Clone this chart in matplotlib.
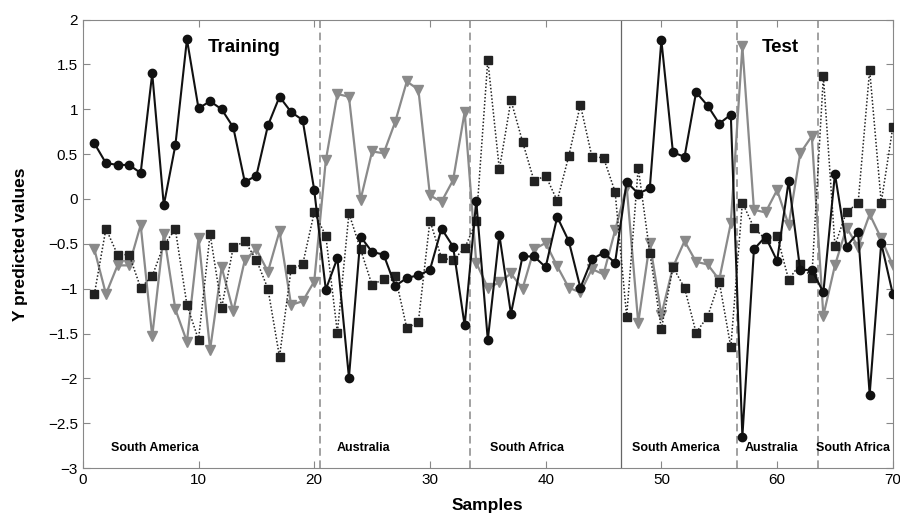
import numpy as np
import matplotlib.pyplot as plt

plt.rcParams['font.family'] = ['Liberation Sans', 'DejaVu Sans']

samples = np.arange(1, 71)

# black circles, solid line
y_circle = [0.62, 0.40, 0.38, 0.38, 0.29, 1.40, -0.07, 0.60, 1.78, 1.01,
            1.09, 1.00, 0.80, 0.19, 0.26, 0.82, 1.14, 0.97, 0.88, 0.10,
            -1.01, -0.66, -1.99, -0.42, -0.59, -0.62, -0.97, -0.88, -0.85, -0.79,
            -0.33, -0.53, -1.41, -0.02, -1.57, -0.40, -1.28, -0.64, -0.64, -0.76,
            -0.20, -0.47, -0.99, -0.67, -0.60, -0.71, 0.19, 0.06, 0.12, 1.77,
            0.52, 0.47, 1.19, 1.04, 0.84, 0.94, -2.65, -0.56, -0.42, -0.69,
            0.20, -0.79, -0.79, -1.04, 0.28, -0.53, -0.37, -2.18, -0.49, -1.06]

# black squares, dotted line
y_square = [-1.06, -0.33, -0.62, -0.62, -0.99, -0.86, -0.51, -0.34, -1.18, -1.57,
            -0.39, -1.21, -0.54, -0.47, -0.68, -1.00, -1.76, -0.78, -0.73, -0.15,
            -0.41, -1.49, -0.16, -0.56, -0.96, -0.89, -0.86, -1.44, -1.37, -0.24,
            -0.66, -0.68, -0.55, -0.25, 1.55, 0.33, 1.10, 0.64, 0.20, 0.26,
            -0.02, 0.48, 1.05, 0.47, 0.46, 0.08, -1.31, 0.35, -0.60, -1.45,
            -0.76, -0.99, -1.49, -1.31, -0.92, -1.65, -0.04, -0.32, -0.45, -0.41,
            -0.90, -0.72, -0.88, 1.37, -0.52, -0.14, -0.05, 1.44, -0.04, 0.80]

# grey triangles, solid line
y_tri = [-0.56, -1.06, -0.74, -0.74, -0.29, -1.53, -0.39, -1.23, -1.59, -0.43,
         -1.68, -0.76, -1.25, -0.68, -0.56, -0.81, -0.36, -1.18, -1.14, -0.92,
         0.43, 1.17, 1.14, -0.01, 0.53, 0.51, 0.86, 1.31, 1.22, 0.04,
         -0.03, 0.21, 0.97, -0.71, -0.99, -0.93, -0.83, -1.00, -0.56, -0.49,
         -0.75, -0.99, -1.04, -0.78, -0.84, -0.35, 0.14, -1.38, -0.49, -1.29,
         -0.76, -0.47, -0.70, -0.73, -0.90, -0.27, 1.70, -0.12, -0.15, 0.10,
         -0.29, 0.51, 0.70, -1.30, -0.74, -0.32, -0.53, -0.17, -0.44, -0.74]

dashed_at = [20.5, 33.5, 56.5, 63.5]
solid_at = 46.5
regions = ["South America", "Australia", "South Africa",
           "South America", "Australia", "South Africa"]
region_x = [2.4, 21.9, 35.2, 47.5, 57.2, 63.4]

fig = plt.figure(figsize=(9, 5.15), dpi=100)
ax = fig.add_axes([0.092, 0.091, 0.9, 0.871])

grey = '#8a8a8a'
ax.plot(samples, y_tri, color=grey, lw=1.6, marker='v', ms=7.5, zorder=2)
ax.plot(samples, y_square, color='#222222', lw=1.1, ls=(0, (1, 1.3)), marker='s', ms=6, zorder=3)
ax.plot(samples, y_circle, color='#111111', lw=1.5, marker='o', ms=6, zorder=4)

for xv in dashed_at:
    ax.axvline(xv, color='#888888', lw=1.1, ls=(0, (5, 3)), zorder=1)
ax.axvline(solid_at, color='#666666', lw=0.9, zorder=1)

ax.text(10.8, 1.69, "Training", fontsize=13.5, fontweight='bold', va='center')
ax.text(58.7, 1.69, "Test", fontsize=13.5, fontweight='bold', va='center')
for name, xv in zip(regions, region_x):
    ax.text(xv, -2.78, name, fontsize=9, fontweight='bold', va='center')

ax.set_xlim(0, 70)
ax.set_ylim(-3, 2)
ax.set_xticks(np.arange(0, 71, 10))
ax.set_yticks(np.arange(-3, 2.01, 0.5))
ax.set_yticklabels([f"{v:g}".replace('-', '\u2212') for v in np.arange(-3, 2.01, 0.5)])
ax.tick_params(direction='in', top=True, right=True, labelsize=11,
               color='#888888', length=5)
for s in ax.spines.values():
    s.set_color('#888888')

ax.set_xlabel("Samples", fontsize=12.5, fontweight='bold', labelpad=8)
ax.set_ylabel("Y predicted values", fontsize=12.5, fontweight='bold', labelpad=14)

fig.savefig("out.png", dpi=100)
